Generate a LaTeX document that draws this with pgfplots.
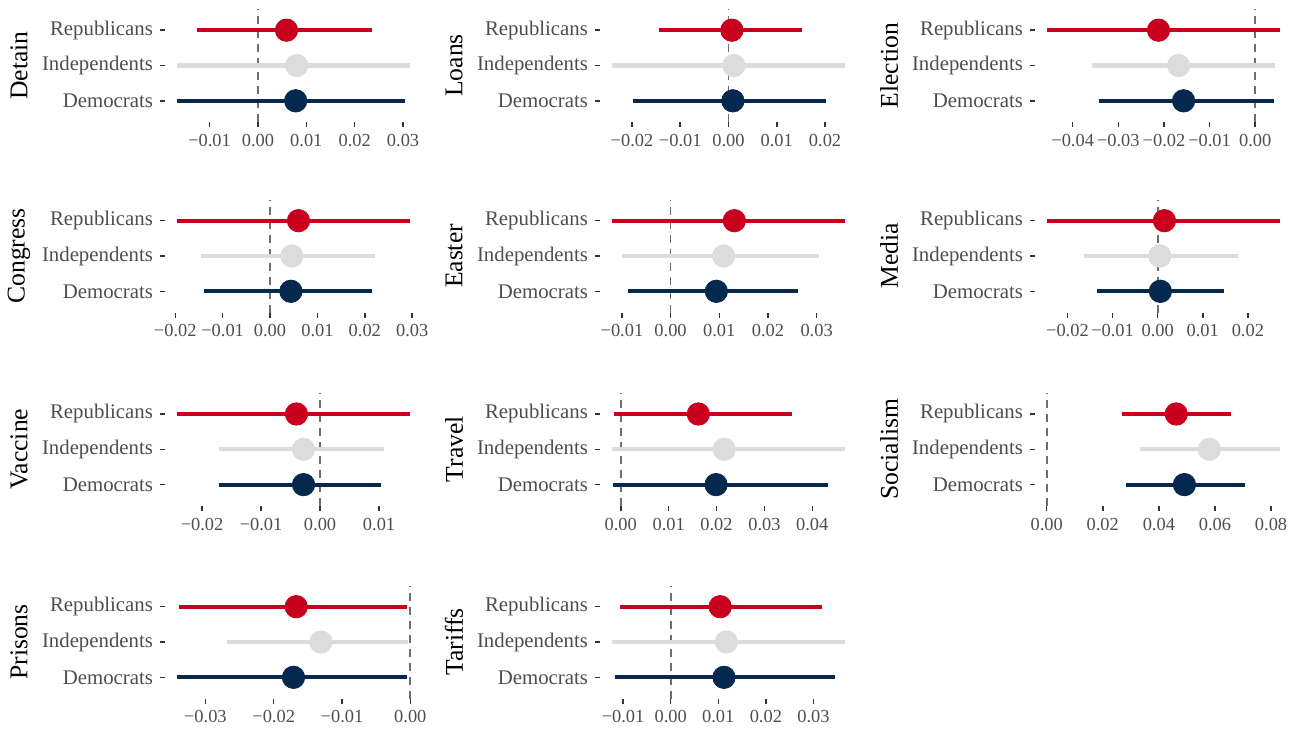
\documentclass[border=0pt]{standalone}
\usepackage{fontspec}
\setmainfont{Liberation Serif}
\usepackage{pgfplots}
\pgfplotsset{compat=1.18}
\definecolor{repred}{RGB}{200,0,30}
\definecolor{indgray}{RGB}{220,220,220}
\definecolor{demnavy}{RGB}{4,40,78}
\definecolor{txtgray}{RGB}{77,77,77}
\definecolor{zerogray}{RGB}{110,110,110}
\definecolor{tickgray}{RGB}{51,51,51}

\pgfplotsset{panel/.style={
  scale only axis, width=128.5pt, height=56.5pt, anchor=north west,
  ymin=0.4, ymax=3.6, ytick={1,2,3}, yticklabels={Democrats,Independents,Republicans},
  axis lines*=left, axis line style={draw=none},
  tick align=outside, major tick length=2.5pt, tick style={tickgray, line width=0.75pt},
  scaled x ticks=false, minor tick num=0,
  clip=false,
  yticklabel style={font=\fontsize{10.4}{12}\selectfont, text=txtgray},
  xticklabel style={font=\fontsize{9.2}{10}\selectfont, text=txtgray},
  every axis y label/.style={at={([xshift=-73pt]rel axis cs:0,0.5)}, rotate=90, anchor=center, font=\fontsize{12.8}{14}\selectfont},
}}

\newcommand{\ci}[5]{%
  \addplot[color=#5, line width=2.1pt, mark=none] coordinates {(#2,#1) (#4,#1)};
  \addplot[color=#5, only marks, mark=*, mark size=5.6pt, mark options={fill=#5, draw=none}] coordinates {(#3,#1)};
}
\newcommand{\zeroline}{\addplot[zerogray, line width=0.9pt, dash pattern=on 4pt off 3pt, mark=none] coordinates {(0,0.4) (0,3.6)};}

\begin{document}
\begin{tikzpicture}
\path[use as bounding box] (0,0) rectangle (649.5pt,-364pt);

% Row 1
\begin{axis}[panel, at={(82.5pt,-4.5pt)}, xmin=-0.01922, xmax=0.03392,
  xtick={-0.01,0,0.01,0.02,0.03}, xticklabels={−0.01,0.00,0.01,0.02,0.03}, ylabel={Detain}]
\zeroline
\ci{3}{-0.0127}{0.0059}{0.0236}{repred}
\ci{2}{-0.0168}{0.0080}{0.0315}{indgray}
\ci{1}{-0.0168}{0.0078}{0.0305}{demnavy}
\end{axis}

\begin{axis}[panel, at={(300pt,-4.5pt)}, xmin=-0.02662, xmax=0.02662,
  xtick={-0.02,-0.01,0,0.01,0.02}, xticklabels={−0.02,−0.01,0.00,0.01,0.02}, ylabel={Loans}]
\zeroline
\ci{3}{-0.0145}{0.0007}{0.0152}{repred}
\ci{2}{-0.0242}{0.0011}{0.0242}{indgray}
\ci{1}{-0.0198}{0.0009}{0.0202}{demnavy}
\end{axis}

\begin{axis}[panel, at={(517.5pt,-4.5pt)}, xmin=-0.04826, xmax=0.00806,
  xtick={-0.04,-0.03,-0.02,-0.01,0}, xticklabels={−0.04,−0.03,−0.02,−0.01,0.00}, ylabel={Election}]
\zeroline
\ci{3}{-0.0457}{-0.0212}{0.0055}{repred}
\ci{2}{-0.0358}{-0.0168}{0.0044}{indgray}
\ci{1}{-0.0342}{-0.0157}{0.0042}{demnavy}
\end{axis}

% Row 2
\begin{axis}[panel, at={(82.5pt,-99.75pt)}, xmin=-0.022165, xmax=0.032065,
  xtick={-0.02,-0.01,0,0.01,0.02,0.03}, xticklabels={−0.02,−0.01,0.00,0.01,0.02,0.03}, ylabel={Congress}]
\zeroline
\ci{3}{-0.0197}{0.0060}{0.0296}{repred}
\ci{2}{-0.0146}{0.0046}{0.0222}{indgray}
\ci{1}{-0.0139}{0.0044}{0.0216}{demnavy}
\end{axis}

\begin{axis}[panel, at={(300pt,-99.75pt)}, xmin=-0.0145, xmax=0.0383,
  xtick={-0.01,0,0.01,0.02,0.03}, xticklabels={−0.01,0.00,0.01,0.02,0.03}, ylabel={Easter}]
\zeroline
\ci{3}{-0.0121}{0.0131}{0.0359}{repred}
\ci{2}{-0.0100}{0.0109}{0.0305}{indgray}
\ci{1}{-0.0087}{0.0094}{0.0261}{demnavy}
\end{axis}

\begin{axis}[panel, at={(517.5pt,-99.75pt)}, xmin=-0.02719, xmax=0.02979,
  xtick={-0.02,-0.01,0,0.01,0.02}, xticklabels={−0.02,−0.01,0.00,0.01,0.02}, ylabel={Media}]
\zeroline
\ci{3}{-0.0246}{0.0015}{0.0272}{repred}
\ci{2}{-0.0164}{0.0005}{0.0179}{indgray}
\ci{1}{-0.0135}{0.0006}{0.0146}{demnavy}
\end{axis}

% Row 3
\begin{axis}[panel, at={(82.5pt,-196.4pt)}, xmin=-0.02628, xmax=0.01728,
  xtick={-0.02,-0.01,0,0.01}, xticklabels={−0.02,−0.01,0.00,0.01}, ylabel={Vaccine}]
\zeroline
\ci{3}{-0.0243}{-0.0040}{0.0153}{repred}
\ci{2}{-0.0171}{-0.0028}{0.0109}{indgray}
\ci{1}{-0.0171}{-0.0028}{0.0104}{demnavy}
\end{axis}

\begin{axis}[panel, at={(300pt,-196.4pt)}, xmin=-0.00434, xmax=0.04934,
  xtick={0,0.01,0.02,0.03,0.04}, xticklabels={0.00,0.01,0.02,0.03,0.04}, ylabel={Travel}]
\zeroline
\ci{3}{-0.0015}{0.0162}{0.0358}{repred}
\ci{2}{-0.0019}{0.0216}{0.0469}{indgray}
\ci{1}{-0.0017}{0.0199}{0.0433}{demnavy}
\end{axis}

\begin{axis}[panel, at={(517.5pt,-196.4pt)}, xmin=-0.004165, xmax=0.087465,
  xtick={0,0.02,0.04,0.06,0.08}, xticklabels={0.00,0.02,0.04,0.06,0.08}, ylabel={Socialism}]
\zeroline
\ci{3}{0.0268}{0.0462}{0.0657}{repred}
\ci{2}{0.0331}{0.0580}{0.0833}{indgray}
\ci{1}{0.0284}{0.0491}{0.0708}{demnavy}
\end{axis}

% Row 4
\begin{axis}[panel, at={(82.5pt,-292.75pt)}, xmin=-0.03591, xmax=0.00171,
  xtick={-0.03,-0.02,-0.01,0}, xticklabels={−0.03,−0.02,−0.01,0.00}, ylabel={Prisons}]
\zeroline
\ci{3}{-0.0338}{-0.0167}{-0.0005}{repred}
\ci{2}{-0.0269}{-0.0131}{-0.0003}{indgray}
\ci{1}{-0.0342}{-0.0171}{-0.0005}{demnavy}
\end{axis}

\begin{axis}[panel, at={(300pt,-292.75pt)}, xmin=-0.014855, xmax=0.039155,
  xtick={-0.01,0,0.01,0.02,0.03}, xticklabels={−0.01,0.00,0.01,0.02,0.03}, ylabel={Tariffs}]
\zeroline
\ci{3}{-0.0107}{0.0104}{0.0319}{repred}
\ci{2}{-0.0124}{0.0117}{0.0367}{indgray}
\ci{1}{-0.0118}{0.0112}{0.0346}{demnavy}
\end{axis}
\end{tikzpicture}
\end{document}
